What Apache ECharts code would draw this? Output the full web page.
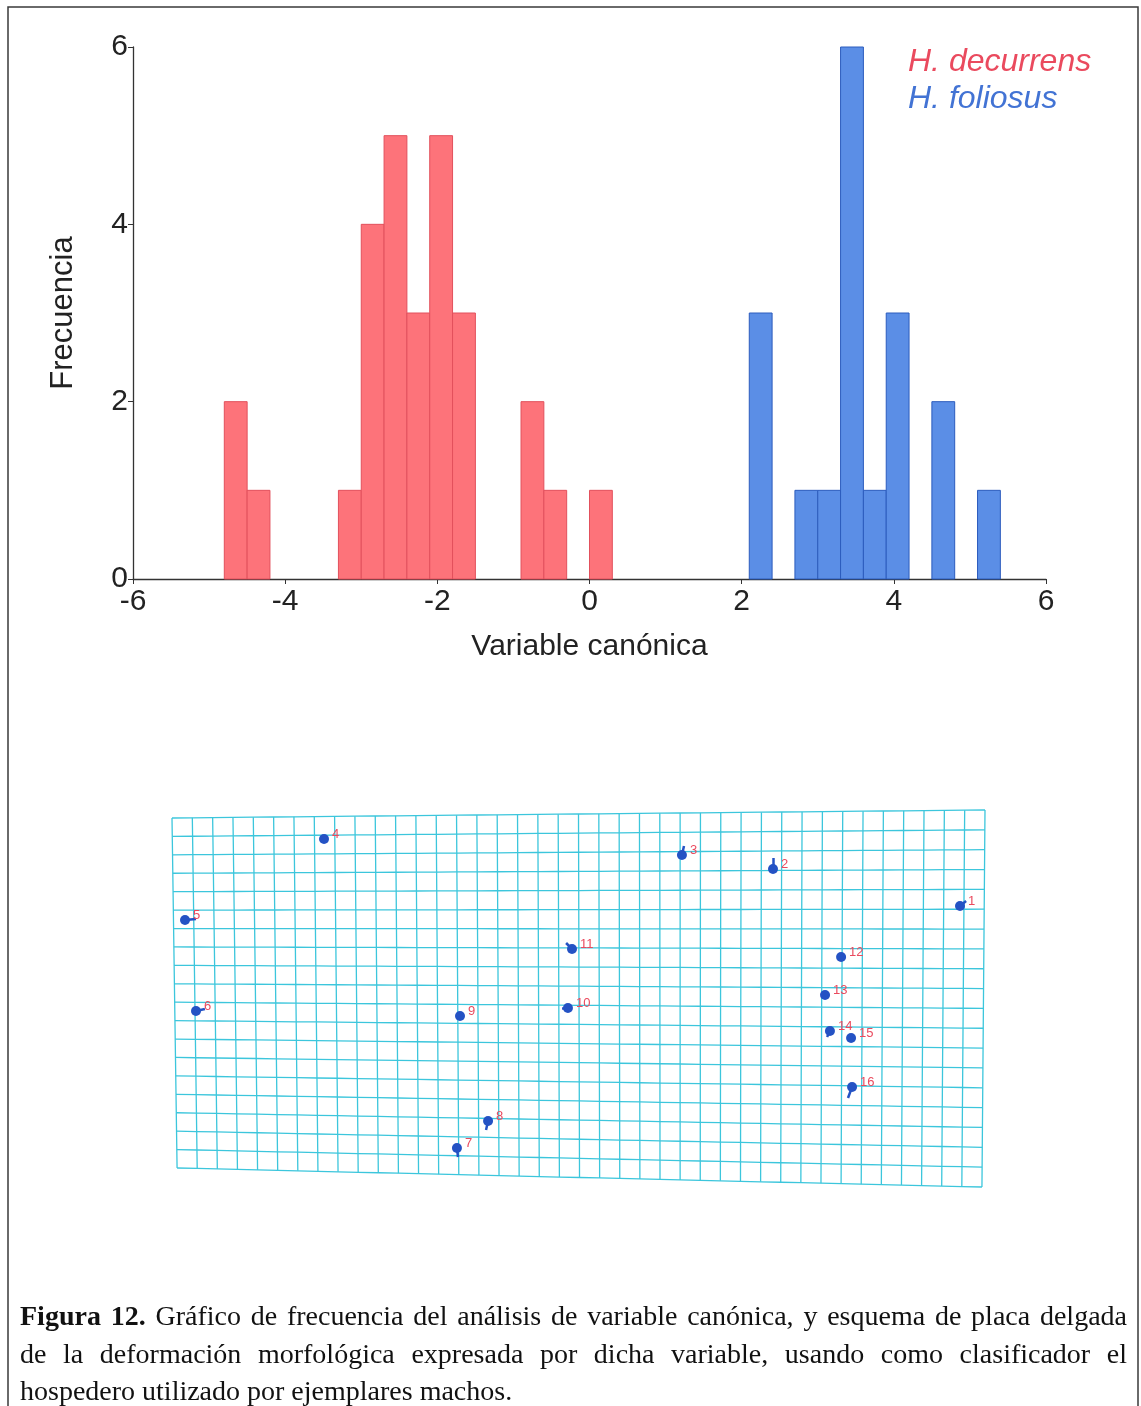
<!DOCTYPE html>
<html>
<head>
<meta charset="utf-8">
<title>Variable canónica — Figura 12</title>
<script src="https://cdn.jsdelivr.net/npm/echarts@6/dist/echarts.min.js"></script>
<style>
  html, body { margin: 0; padding: 0; background: #ffffff; }
  #chart { width: 1141px; height: 1406px; }
</style>
</head>
<body>
<div id="chart"></div>
<script>
// ---- Histogram of the canonical variable (bins 0.3 wide, given by left edge) ----
const binWidth = 0.3;
const decurrensStart = [-4.8, -4.5, -3.3, -3.0, -2.7, -2.4, -2.1, -1.8, -0.9, -0.6, 0.0];
const decurrensCount = [2, 1, 1, 4, 5, 3, 5, 3, 2, 1, 1];
const foliosusStart = [2.1, 2.7, 3.0, 3.3, 3.6, 3.9, 4.5, 5.1];
const foliosusCount = [3, 1, 1, 6, 1, 3, 2, 1];
const speciesNames = ['H. decurrens', 'H. foliosus'];

// ---- Thin-plate spline grid: outline corners (TL, TR, BL, BR) and lattice size ----
const gridCornerX = [0.0, 40.0, 0.25, 39.85];
const gridCornerY = [19.1, 19.5, 1.6, 0.65];
const latticeCols = 40;
const latticeRows = 19;

// ---- Landmarks (numbered) with the end point of each displacement vector ----
const landmarkIds = ['1', '2', '3', '4', '5', '6', '7', '8', '9', '10', '11', '12', '13', '14', '15', '16'];
const landmarkX = [38.77, 29.57, 25.09, 7.48, 0.64, 1.18, 14.02, 15.55, 14.17, 19.48, 19.68, 32.92, 32.13, 32.37, 33.41, 33.46];
const landmarkY = [14.70, 16.55, 17.25, 18.05, 14.00, 9.45, 2.60, 3.95, 9.20, 9.60, 12.55, 12.15, 10.25, 8.45, 8.10, 5.65];
const vectorEndX = [39.07, 29.57, 25.19, 7.48, 1.18, 1.62, 14.07, 15.45, 14.17, 19.19, 19.39, 32.92, 32.13, 32.23, 33.41, 33.26];
const vectorEndY = [14.95, 17.10, 17.70, 18.05, 14.05, 9.55, 2.15, 3.50, 9.20, 9.60, 12.85, 12.15, 10.25, 8.15, 8.10, 5.10];

// ---- Caption ----
const captionLines = [
  'Figura 12. Gráfico de frecuencia del análisis de variable canónica, y esquema de placa delgada',
  'de la deformación morfológica expresada por dicha variable, usando como clasificador el',
  'hospedero utilizado por ejemplares machos.'
];
const captionJustify = [true, true, false];
const captionBoldWords = 2;

const SANS = '"Liberation Sans", Arial, Helvetica, sans-serif';
const SERIF = '"Liberation Serif", "Times New Roman", serif';
const RED_FILL = '#fd737a', RED_EDGE = '#e2505c', RED_TEXT = '#ea4a5e';
const BLUE_FILL = '#5b8ee6', BLUE_EDGE = '#2c5cbd', BLUE_TEXT = '#4273d4';
const GRID_CYAN = '#3cc6dc';
const DOT_BLUE = '#2452c4';

function histItem(fill, edge) {
  return function (params, api) {
    const x0 = api.value(0);
    const c = api.value(1);
    const pTop = api.coord([x0, c]);
    const pBot = api.coord([x0 + binWidth, 0]);
    return {
      type: 'rect',
      shape: { x: pTop[0], y: pTop[1], width: pBot[0] - pTop[0], height: pBot[1] - pTop[1] },
      style: { fill: fill, stroke: edge, lineWidth: 1 }
    };
  };
}

function lerp(a, b, t) { return a + (b - a) * t; }
function latticePoint(u, v) {
  const tx = lerp(gridCornerX[0], gridCornerX[1], u), ty = lerp(gridCornerY[0], gridCornerY[1], u);
  const bx = lerp(gridCornerX[2], gridCornerX[3], u), by = lerp(gridCornerY[2], gridCornerY[3], u);
  return [lerp(tx, bx, v), lerp(ty, by, v)];
}
const latticeLines = [];
for (let i = 0; i <= latticeCols; i++) {
  const coords = [];
  for (let j = 0; j <= latticeRows; j++) coords.push(latticePoint(i / latticeCols, j / latticeRows));
  latticeLines.push({ coords: coords });
}
for (let j = 0; j <= latticeRows; j++) {
  const coords = [];
  for (let i = 0; i <= latticeCols; i++) coords.push(latticePoint(i / latticeCols, j / latticeRows));
  latticeLines.push({ coords: coords });
}

const vectorLines = [];
landmarkIds.forEach(function (id, k) {
  if (vectorEndX[k] !== landmarkX[k] || vectorEndY[k] !== landmarkY[k]) {
    vectorLines.push({ coords: [[landmarkX[k], landmarkY[k]], [vectorEndX[k], vectorEndY[k]]] });
  }
});
const landmarkData = landmarkIds.map(function (id, k) {
  return { name: id, value: [landmarkX[k], landmarkY[k]] };
});

// Caption laid out word by word so the first lines are justified
function captionGraphics() {
  const ctx = document.createElement('canvas').getContext('2d');
  const size = 28;
  const left = 20, right = 1127;
  const baseY = [1318, 1356, 1393];
  const out = [];
  captionLines.forEach(function (line, li) {
    const words = line.split(' ');
    const fonts = words.map(function (w, wi) {
      return (li === 0 && wi < captionBoldWords ? 'bold ' : '') + size + 'px ' + SERIF;
    });
    const widths = words.map(function (w, wi) { ctx.font = fonts[wi]; return ctx.measureText(w).width; });
    ctx.font = size + 'px ' + SERIF;
    const spaceW = ctx.measureText(' ').width;
    const total = widths.reduce(function (a, b) { return a + b; }, 0);
    const gap = captionJustify[li] ? (right - left - total) / (words.length - 1) : spaceW;
    let x = left;
    words.forEach(function (w, wi) {
      out.push({
        type: 'text', silent: true,
        style: { text: w, x: x, y: baseY[li], font: fonts[wi], fill: '#111111', textVerticalAlign: 'middle' }
      });
      x += widths[wi] + gap;
    });
  });
  return out;
}

const chart = echarts.init(document.getElementById('chart'), null, { renderer: 'canvas' });
chart.setOption({
  animation: false,
  backgroundColor: '#ffffff',
  legend: {
    orient: 'vertical', left: 898, top: 41, itemWidth: 0, itemHeight: 0, itemGap: 5,
    selectedMode: false, icon: 'rect',
    textStyle: { fontFamily: SANS, fontStyle: 'italic', fontSize: 32 },
    data: [
      { name: speciesNames[0], textStyle: { color: RED_TEXT } },
      { name: speciesNames[1], textStyle: { color: BLUE_TEXT } }
    ]
  },
  grid: [
    { left: 133, top: 47, width: 913, height: 532 },
    { left: 172, top: 800, width: 813, height: 400 }
  ],
  xAxis: [
    {
      gridIndex: 0, type: 'value', min: -6, max: 6, interval: 2,
      name: 'Variable canónica', nameLocation: 'middle', nameGap: 53,
      nameTextStyle: { fontFamily: SANS, fontSize: 30, color: '#222' },
      axisLine: { show: true, onZero: false, lineStyle: { color: '#333', width: 1.3 } },
      axisTick: { show: true, length: 5, lineStyle: { color: '#333' } },
      axisLabel: { fontFamily: SANS, fontSize: 30, color: '#222', margin: 8 },
      splitLine: { show: false }
    },
    { gridIndex: 1, type: 'value', min: 0, max: 40, show: false, splitLine: { show: false } }
  ],
  yAxis: [
    {
      gridIndex: 0, type: 'value', min: 0, max: 6, interval: 2,
      name: 'Frecuencia', nameLocation: 'middle', nameGap: 54, nameRotate: 90,
      nameTextStyle: { fontFamily: SANS, fontSize: 31, color: '#222' },
      axisLine: { show: true, onZero: false, lineStyle: { color: '#333', width: 1.3 } },
      axisTick: { show: true, length: 5, lineStyle: { color: '#333' } },
      axisLabel: { fontFamily: SANS, fontSize: 30, color: '#222', margin: 5 },
      splitLine: { show: false }
    },
    { gridIndex: 1, type: 'value', min: 0, max: 20, show: false, splitLine: { show: false } }
  ],
  series: [
    {
      name: speciesNames[0], type: 'custom', xAxisIndex: 0, yAxisIndex: 0,
      itemStyle: { color: RED_FILL },
      renderItem: histItem(RED_FILL, RED_EDGE),
      encode: { x: 0, y: 1 },
      data: decurrensStart.map(function (s, i) { return [s, decurrensCount[i]]; })
    },
    {
      name: speciesNames[1], type: 'custom', xAxisIndex: 0, yAxisIndex: 0,
      itemStyle: { color: BLUE_FILL },
      renderItem: histItem(BLUE_FILL, BLUE_EDGE),
      encode: { x: 0, y: 1 },
      data: foliosusStart.map(function (s, i) { return [s, foliosusCount[i]]; })
    },
    {
      name: 'lattice', type: 'lines', coordinateSystem: 'cartesian2d', xAxisIndex: 1, yAxisIndex: 1,
      polyline: true, silent: true, clip: false, z: 1,
      lineStyle: { color: GRID_CYAN, width: 1.3, opacity: 1 },
      data: latticeLines
    },
    {
      name: 'vectors', type: 'lines', coordinateSystem: 'cartesian2d', xAxisIndex: 1, yAxisIndex: 1,
      silent: true, clip: false, z: 3,
      lineStyle: { color: DOT_BLUE, width: 2.5, opacity: 1 },
      data: vectorLines
    },
    {
      name: 'landmarks', type: 'scatter', xAxisIndex: 1, yAxisIndex: 1, clip: false, z: 4,
      symbolSize: 10, itemStyle: { color: DOT_BLUE, opacity: 1 },
      label: {
        show: true, position: 'right', distance: 3, offset: [0, -5],
        formatter: '{b}', fontFamily: SANS, fontSize: 13, color: RED_TEXT
      },
      data: landmarkData
    }
  ],
  graphic: [
    {
      type: 'rect', silent: true, z: -1,
      shape: { x: 8, y: 7, width: 1130, height: 1420 },
      style: { fill: 'none', stroke: '#3a3a3a', lineWidth: 1.5 }
    }
  ].concat(captionGraphics())
});
</script>
</body>
</html>
